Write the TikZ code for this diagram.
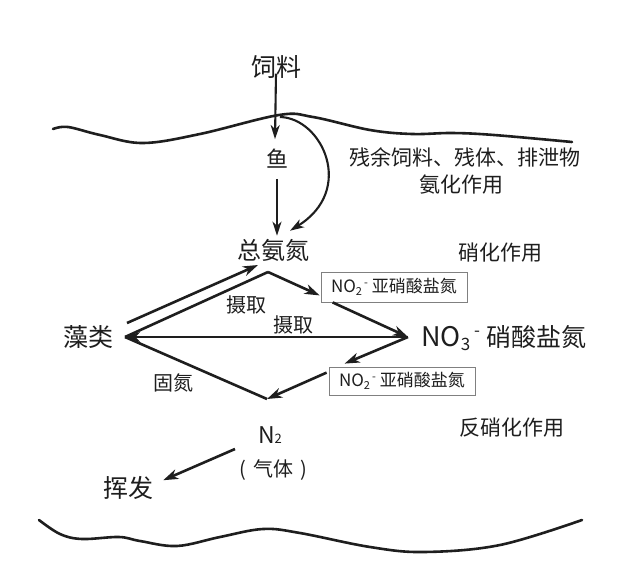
\documentclass[tikz,border=0pt]{standalone}
\usepackage{fontspec}
\setmainfont{Noto Sans CJK SC}
\usetikzlibrary{arrows.meta}
\definecolor{ink}{HTML}{1E1E1E}
\definecolor{boxgray}{HTML}{808080}
\tikzset{
  lbl/.style={inner sep=0pt, text=ink},
  fs/.style={font=\fontsize{#1}{#1}\selectfont},
  arr/.style={draw=ink, line width=2.6pt, -{Stealth[length=15pt,width=10pt,inset=4.5pt]}},
  thinarr/.style={draw=ink, line width=2.1pt, -{Stealth[length=14pt,width=9pt,inset=4pt]}},
  edge/.style={draw=ink, line width=2.6pt},
  wave/.style={draw=ink, line width=2.6pt, line cap=round},
  nobox/.style={draw=boxgray, line width=0.8pt, inner sep=0pt, minimum width=146pt, text=ink, font=\fontsize{17}{17}\selectfont},
}
\begin{document}
\begin{tikzpicture}[x=1pt,y=-1pt]
\useasboundingbox[fill=white] (0,0) rectangle (640,584);

% waves
\draw[wave] plot[smooth, tension=0.6] coordinates {(53,129) (68,127) (100,135) (143,143) (200,134) (279,115) (313,117) (370,130) (412,134) (452,133) (494,135) (572,142)};
\draw[wave] plot[smooth, tension=0.6] coordinates {(39,520) (60,534) (82,539) (119,537) (140,541) (177,546) (220,537) (263,529) (300,533) (370,547) (424,552) (500,545) (582,520)};

% text nodes
\node[lbl, fs=25] (siliao) at (276,67) {饲料};
\node[lbl, fs=22] (yu) at (277,159) {鱼};
\node[lbl, fs=24] (zong) at (273,250) {总氨氮};
\node[lbl, fs=21] (canyu) at (465,157) {残余饲料、残体、排泄物};
\node[lbl, fs=21] (anhua) at (461,185) {氨化作用};
\node[lbl, fs=21] (xiaohua) at (500,253) {硝化作用};
\node[lbl, fs=25] (zaolei) at (88,337) {藻类};
\node[lbl, fs=20] (sheqv1) at (246,305) {摄取};
\node[lbl, fs=20] (sheqv2) at (293,325) {摄取};
\node[lbl, fs=20] (guzan) at (173,383) {固氮};
\node[lbl, fs=25, anchor=west] (no3) at (421,338) {{\fontsize{27}{27}\selectfont NO}\raisebox{-4pt}{\fontsize{17}{17}\selectfont 3}\hspace{4pt}\raisebox{10pt}{\fontsize{17}{17}\selectfont -}\hspace{6pt}硝酸盐氮};
\node[nobox, minimum height=30pt] (b1) at (394,287) {NO\raisebox{-3pt}{\fontsize{11}{11}\selectfont 2}\hspace{2pt}\raisebox{6pt}{\fontsize{11}{11}\selectfont -}\hspace{4pt}亚硝酸盐氮};
\node[nobox, minimum height=28pt] (b2) at (402,381) {NO\raisebox{-3pt}{\fontsize{11}{11}\selectfont 2}\hspace{2pt}\raisebox{6pt}{\fontsize{11}{11}\selectfont -}\hspace{4pt}亚硝酸盐氮};
\node[lbl, fs=23] (n2) at (270,435) {N\fontsize{13}{13}\selectfont 2};
\node[lbl, fs=20] (qiti) at (273,470) {(\hspace{7pt}气体\hspace{7pt})};
\node[lbl, fs=21] (fanxiao) at (512,428) {反硝化作用};
\node[lbl, fs=25] (huifa) at (128,488) {挥发};

% diamond vertices
\coordinate (T) at (268,272);
\coordinate (L) at (125,337);
\coordinate (R) at (408,337);
\coordinate (B) at (267,399);
\coordinate (peak) at (280,117);

% top connectors
\draw[thinarr] (siliao.south) ++(0,-5) -- ([xshift=-2pt,yshift=10pt]yu.north);
\draw[thinarr] ([yshift=-10pt]yu.south) -- ([xshift=4pt,yshift=3pt]zong.north);
\draw[thinarr] (peak) .. controls (322,118) and (356,190) .. ([xshift=17pt,yshift=8pt]zong.north);

% diamond
\draw[edge] (T) -- (L);
\draw[edge] (L) -- (B);
\draw[arr] ([xshift=2pt,yshift=14pt]L) -- ([xshift=-10pt,yshift=7pt]T);
\draw[arr] (T) -- ([xshift=-1pt,yshift=7pt]b1.south west);
\draw[arr] ([xshift=12pt]b1.south west) -- (R);
\draw[arr] (R) -- (L);
\draw[arr] (R) -- ([xshift=16pt,yshift=3pt]b2.north west);
\draw[arr] ([xshift=-2pt,yshift=-6pt]b2.north west) -- (B);

% N2 to volatilisation
\draw[arr] ([xshift=-35pt,yshift=-14pt]n2.center) -- ([xshift=10pt,yshift=-4pt]huifa.north east);
\end{tikzpicture}
\end{document}
